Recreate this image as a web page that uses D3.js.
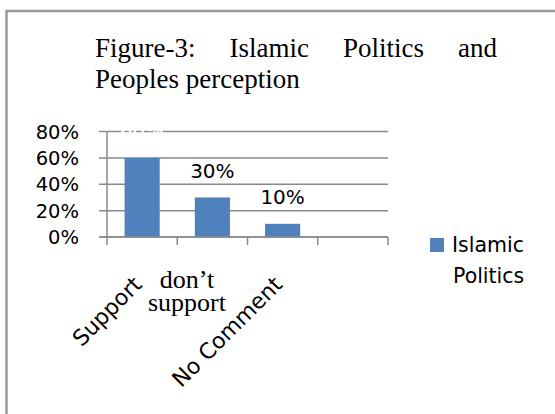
<!DOCTYPE html>
<meta charset="utf-8">
<head>
    <title>Islamic Politics and Peoples perception</title>
    <script type="text/javascript" src="https://d3js.org/d3.v7.min.js"></script>
    <style>
        body { margin: 0; background: #fff; }
        svg { display: block; }
    </style>
</head>
<body>
<script>
    // data
    var categories = ["Support", "don\u2019t support", "No Comment", ""];
    var values = [0.6, 0.3, 0.1, null];
    var valueLabels = ["60%", "30%", "10%", ""];
    var yTicks = [0, 0.2, 0.4, 0.6, 0.8];
    var seriesName = "Islamic Politics";
    var titleLines = ["Figure-3: Islamic Politics and", "Peoples perception"];

    var width = 555, height = 414;
    var plot = {left: 107, right: 388, top: 131.5, bottom: 237};
    var gray = "#8a8a8a", blue = "#4f81bd";
    var sans = "'DejaVu Sans', sans-serif", serif = "'Liberation Serif', 'Times New Roman', serif";

    var svg = d3.select("body").append("svg")
        .attr("width", width)
        .attr("height", height);

    // frame (only left and top edges show)
    svg.append("path")
        .attr("d", "M6.5,414 V11 H555")
        .attr("fill", "none")
        .attr("stroke", "#999")
        .attr("stroke-width", 2.5);

    // title, first line justified
    var t1 = svg.append("g");
    var words = titleLines[0].split(" ");
    var wNodes = words.map(function(w) {
        return t1.append("text")
            .attr("y", 57)
            .attr("font-family", serif)
            .attr("font-size", 27)
            .attr("fill", "#000")
            .text(w);
    });
    var tx0 = 95, tx1 = 497;
    var widths = wNodes.map(function(n) { return n.node().getComputedTextLength(); });
    var gap = (tx1 - tx0 - d3.sum(widths)) / (words.length - 1);
    var cx = tx0;
    wNodes.forEach(function(n, i) { n.attr("x", cx); cx += widths[i] + gap; });

    svg.append("text")
        .attr("x", 95).attr("y", 88)
        .attr("font-family", serif)
        .attr("font-size", 27)
        .text(titleLines[1]);

    // scales
    var x = d3.scaleBand()
        .domain(d3.range(categories.length))
        .range([plot.left, plot.right])
        .paddingInner(0.5)
        .paddingOuter(0.25);

    var y = d3.scaleLinear()
        .domain([0, 0.8])
        .range([plot.bottom, plot.top]);

    // gridlines + y ticks
    svg.append("g").selectAll("line")
        .data(yTicks)
        .enter().append("line")
        .attr("x1", plot.left - 8)
        .attr("x2", plot.right)
        .attr("y1", function(d) { return y(d); })
        .attr("y2", function(d) { return y(d); })
        .attr("stroke", gray)
        .attr("stroke-width", 1.5);

    svg.append("g").selectAll("text")
        .data(yTicks)
        .enter().append("text")
        .attr("x", 79)
        .attr("y", function(d) { return y(d); })
        .attr("dy", "0.36em")
        .attr("text-anchor", "end")
        .attr("font-family", sans)
        .attr("font-size", 19.5)
        .text(d3.format(".0%"));

    // y axis line
    svg.append("line")
        .attr("x1", plot.left).attr("x2", plot.left)
        .attr("y1", y(0.8)).attr("y2", y(0))
        .attr("stroke", gray)
        .attr("stroke-width", 1.5);

    // x ticks at category edges
    var edges = d3.range(categories.length + 1).map(function(i) {
        return plot.left + (plot.right - plot.left) * i / categories.length;
    });
    svg.append("g").selectAll("line")
        .data(edges)
        .enter().append("line")
        .attr("x1", function(d) { return d; })
        .attr("x2", function(d) { return d; })
        .attr("y1", y(0))
        .attr("y2", y(0) + 8)
        .attr("stroke", gray)
        .attr("stroke-width", 1.5);

    // bars
    var idx = d3.range(categories.length).filter(function(i) { return values[i] != null; });
    svg.append("g").selectAll("rect")
        .data(idx)
        .enter().append("rect")
        .attr("x", function(i) { return x(i); })
        .attr("y", function(i) { return y(values[i]); })
        .attr("width", x.bandwidth())
        .attr("height", function(i) { return y(0) - y(values[i]); })
        .attr("fill", blue);

    // x axis line drawn over bars
    svg.append("line")
        .attr("x1", plot.left - 8).attr("x2", plot.right)
        .attr("y1", y(0)).attr("y2", y(0))
        .attr("stroke", gray)
        .attr("stroke-width", 1.5);

    // data labels (the first one is white, as in the original)
    svg.append("g").selectAll("text")
        .data(idx)
        .enter().append("text")
        .attr("x", function(i) { return x(i) + x.bandwidth() / 2; })
        .attr("y", function(i) { return y(values[i]) - 19.5; })
        .attr("text-anchor", "middle")
        .attr("font-family", sans)
        .attr("font-size", 20)
        .attr("fill", function(i) { return i == 0 ? "#fff" : "#000"; })
        .text(function(i) { return valueLabels[i]; });

    // category labels
    [0, 2].forEach(function(i) {
        var px = x(i) + x.bandwidth() / 2 + 1, py = 286;
        svg.append("text")
            .attr("transform", "translate(" + px + "," + py + ") rotate(-45)")
            .attr("text-anchor", "end")
            .attr("font-family", sans)
            .attr("font-size", 22)
            .text(categories[i]);
    });
    var parts = categories[1].split(" ");
    svg.append("text")
        .attr("x", 187).attr("y", 288)
        .attr("text-anchor", "middle")
        .attr("font-family", serif)
        .attr("font-size", 26)
        .text(parts[0]);
    svg.append("text")
        .attr("x", 187).attr("y", 311)
        .attr("text-anchor", "middle")
        .attr("font-family", serif)
        .attr("font-size", 26)
        .text(parts[1]);

    // legend
    var legend = svg.append("g").attr("id", "legend");
    legend.append("rect")
        .attr("x", 430).attr("y", 238)
        .attr("width", 14).attr("height", 14)
        .attr("fill", blue);
    var lw = seriesName.split(" ");
    legend.append("text")
        .attr("x", 452).attr("y", 252)
        .attr("font-family", sans).attr("font-size", 20.5)
        .text(lw[0]);
    legend.append("text")
        .attr("x", 453).attr("y", 283)
        .attr("font-family", sans).attr("font-size", 20.5)
        .text(lw[1]);
</script>
</body>
</html>
